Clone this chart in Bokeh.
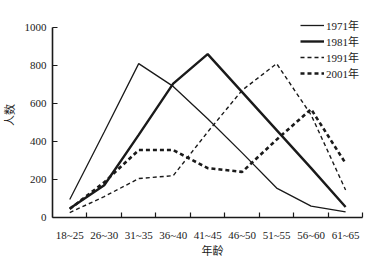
from bokeh.plotting import figure
from bokeh.models import FixedTicker, Legend, LegendItem, Range1d
from bokeh.embed import file_html
from bokeh.resources import INLINE

age_groups = ["18~25", "26~30", "31~35", "36~40", "41~45", "46~50", "51~55", "56~60", "61~65"]
y1971 = [95, 450, 810, 690, 520, 340, 155, 60, 30]
y1981 = [48, 170, 435, 705, 860, 660, 460, 260, 55]
y1991 = [26, 110, 205, 220, 450, 670, 810, 540, 145]
y2001 = [45, 185, 355, 355, 260, 240, 410, 570, 285]
series_names = ["1971年", "1981年", "1991年", "2001年"]
y_ticks = [0, 200, 400, 600, 800, 1000]

FONT = "'Liberation Serif', 'Noto Sans CJK SC', serif"
INK = "#1a1a1a"

n = len(age_groups)
xs = [i + 0.5 for i in range(n)]

p = figure(width=375, height=264, output_backend="svg", toolbar_location=None,
           x_range=Range1d(0, 9.28), y_range=Range1d(0, 1079),
           min_border_left=42, min_border_right=3, min_border_top=12, min_border_bottom=47)
p.outline_line_color = None
p.grid.grid_line_color = None
p.background_fill_color = "white"
p.border_fill_color = "white"

r1 = p.line(xs, y1971, line_color=INK, line_width=1.3)
r2 = p.line(xs, y1981, line_color=INK, line_width=2.4)
r3 = p.line(xs, y1991, line_color=INK, line_width=1.4, line_dash="4 3")
r4 = p.line(xs, y2001, line_color=INK, line_width=2.6, line_dash="4 3")

# x axis: labels at category centres, tick marks at boundaries
p.xaxis.ticker = FixedTicker(ticks=xs, minor_ticks=list(range(1, n + 1)))
p.xaxis.bounds = (0, n)
p.xaxis.major_label_overrides = {x: lab for x, lab in zip(xs, age_groups)}
p.xaxis.minor_tick_in = 5
p.xaxis.minor_tick_out = 0
p.xaxis.minor_tick_line_color = INK
p.xaxis.minor_tick_line_width = 1.2
p.xaxis.axis_label = "年龄"

p.yaxis.ticker = FixedTicker(ticks=y_ticks, minor_ticks=[])
p.yaxis.bounds = (0, 1000)
p.yaxis.major_tick_in = 5
p.yaxis.major_tick_out = 0
p.yaxis.minor_tick_line_color = None
p.yaxis.axis_label = "人数"

for ax in (p.xaxis[0], p.yaxis[0]):
    ax.axis_line_color = INK
    ax.axis_line_width = 1.6
    ax.major_tick_line_width = 1.2
    ax.major_label_text_font = FONT
    ax.major_label_text_font_size = "11px"
    ax.major_label_text_color = INK
    ax.axis_label_text_font = FONT
    ax.axis_label_text_font_size = "11px"
    ax.axis_label_text_font_style = "normal"
    ax.axis_label_text_color = INK
    ax.major_label_standoff = 6
    ax.axis_label_standoff = 6
p.xaxis.major_label_standoff = 5
p.xaxis.axis_label_standoff = 1
p.xaxis.major_tick_line_color = None
p.yaxis.major_tick_line_color = INK

legend = Legend(items=[LegendItem(label=s, renderers=[r]) for s, r in zip(series_names, [r1, r2, r3, r4])],
                location=(248, 136), border_line_color=None, background_fill_alpha=0,
                padding=0, margin=0, spacing=0, glyph_width=24, glyph_height=12,
                label_height=12, label_standoff=2,
                label_text_font=FONT, label_text_font_size="11px", label_text_color=INK)
p.add_layout(legend, "center")

open("out.html", "w").write(file_html(p, INLINE))
